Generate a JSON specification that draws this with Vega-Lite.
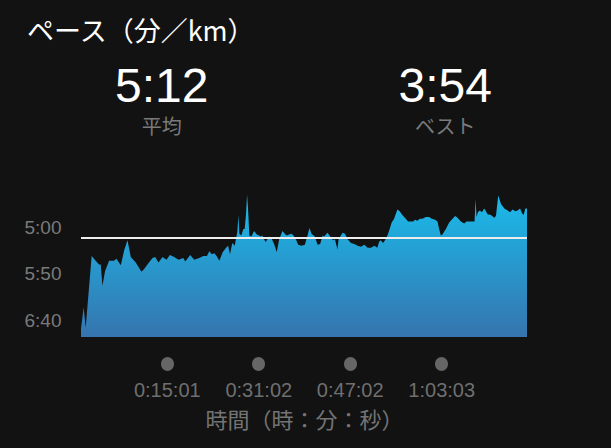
{
  "$schema": "https://vega.github.io/schema/vega-lite/v6.json",
  "background": "#121212",
  "padding": {"left": 24, "right": 84, "top": 19, "bottom": 18},
  "bounds": "flush",
  "spacing": 23,
  "title": {
    "text": "ペース（分／km）",
    "anchor": "start",
    "color": "#ffffff",
    "font": "Noto Sans CJK JP",
    "fontSize": 27,
    "fontWeight": "normal",
    "offset": 17,
    "dx": 3
  },
  "datasets": {
    "stats": [
      {"stat": "平均", "value": "5:12"},
      {"stat": "ベスト", "value": "3:54"}
    ],
    "pace": [
      {"t": 0, "pace": 409},
      {"t": 28, "pace": 386},
      {"t": 49, "pace": 408},
      {"t": 112, "pace": 331},
      {"t": 154, "pace": 336},
      {"t": 189, "pace": 340},
      {"t": 207, "pace": 340},
      {"t": 225, "pace": 363},
      {"t": 253, "pace": 347},
      {"t": 295, "pace": 336},
      {"t": 347, "pace": 336},
      {"t": 372, "pace": 334},
      {"t": 418, "pace": 341},
      {"t": 453, "pace": 325},
      {"t": 488, "pace": 314},
      {"t": 523, "pace": 332},
      {"t": 575, "pace": 338},
      {"t": 635, "pace": 348},
      {"t": 663, "pace": 345},
      {"t": 698, "pace": 340},
      {"t": 751, "pace": 333},
      {"t": 779, "pace": 332},
      {"t": 814, "pace": 338},
      {"t": 856, "pace": 332},
      {"t": 898, "pace": 335},
      {"t": 933, "pace": 330},
      {"t": 979, "pace": 332},
      {"t": 1025, "pace": 335},
      {"t": 1074, "pace": 333},
      {"t": 1095, "pace": 337},
      {"t": 1147, "pace": 330},
      {"t": 1189, "pace": 335},
      {"t": 1242, "pace": 333},
      {"t": 1284, "pace": 331},
      {"t": 1323, "pace": 331},
      {"t": 1347, "pace": 326},
      {"t": 1375, "pace": 329},
      {"t": 1400, "pace": 328},
      {"t": 1424, "pace": 331},
      {"t": 1453, "pace": 336},
      {"t": 1488, "pace": 327},
      {"t": 1523, "pace": 322},
      {"t": 1545, "pace": 320},
      {"t": 1565, "pace": 329},
      {"t": 1589, "pace": 317},
      {"t": 1614, "pace": 320},
      {"t": 1642, "pace": 305},
      {"t": 1653, "pace": 287},
      {"t": 1663, "pace": 307},
      {"t": 1684, "pace": 309},
      {"t": 1705, "pace": 302},
      {"t": 1719, "pace": 302},
      {"t": 1733, "pace": 286},
      {"t": 1744, "pace": 265},
      {"t": 1754, "pace": 280},
      {"t": 1768, "pace": 309},
      {"t": 1789, "pace": 310},
      {"t": 1818, "pace": 304},
      {"t": 1846, "pace": 308},
      {"t": 1870, "pace": 309},
      {"t": 1888, "pace": 310},
      {"t": 1905, "pace": 309},
      {"t": 1923, "pace": 313},
      {"t": 1940, "pace": 316},
      {"t": 1975, "pace": 310},
      {"t": 2000, "pace": 312},
      {"t": 2028, "pace": 318},
      {"t": 2056, "pace": 327},
      {"t": 2081, "pace": 313},
      {"t": 2116, "pace": 304},
      {"t": 2140, "pace": 307},
      {"t": 2161, "pace": 309},
      {"t": 2186, "pace": 308},
      {"t": 2211, "pace": 307},
      {"t": 2232, "pace": 309},
      {"t": 2256, "pace": 313},
      {"t": 2281, "pace": 319},
      {"t": 2316, "pace": 320},
      {"t": 2351, "pace": 319},
      {"t": 2379, "pace": 309},
      {"t": 2400, "pace": 301},
      {"t": 2421, "pace": 307},
      {"t": 2456, "pace": 310},
      {"t": 2484, "pace": 319},
      {"t": 2512, "pace": 318},
      {"t": 2537, "pace": 309},
      {"t": 2554, "pace": 310},
      {"t": 2589, "pace": 306},
      {"t": 2618, "pace": 310},
      {"t": 2646, "pace": 314},
      {"t": 2667, "pace": 313},
      {"t": 2693, "pace": 324},
      {"t": 2705, "pace": 313},
      {"t": 2747, "pace": 306},
      {"t": 2772, "pace": 307},
      {"t": 2800, "pace": 313},
      {"t": 2835, "pace": 317},
      {"t": 2870, "pace": 318},
      {"t": 2905, "pace": 320},
      {"t": 2940, "pace": 321},
      {"t": 2975, "pace": 319},
      {"t": 3011, "pace": 322},
      {"t": 3046, "pace": 322},
      {"t": 3081, "pace": 320},
      {"t": 3112, "pace": 322},
      {"t": 3130, "pace": 316},
      {"t": 3147, "pace": 314},
      {"t": 3172, "pace": 317},
      {"t": 3193, "pace": 314},
      {"t": 3218, "pace": 309},
      {"t": 3235, "pace": 304},
      {"t": 3263, "pace": 295},
      {"t": 3288, "pace": 291},
      {"t": 3323, "pace": 281},
      {"t": 3347, "pace": 283},
      {"t": 3375, "pace": 287},
      {"t": 3411, "pace": 291},
      {"t": 3435, "pace": 294},
      {"t": 3463, "pace": 294},
      {"t": 3488, "pace": 294},
      {"t": 3509, "pace": 292},
      {"t": 3533, "pace": 293},
      {"t": 3558, "pace": 291},
      {"t": 3586, "pace": 291},
      {"t": 3621, "pace": 289},
      {"t": 3656, "pace": 289},
      {"t": 3684, "pace": 291},
      {"t": 3719, "pace": 292},
      {"t": 3744, "pace": 294},
      {"t": 3761, "pace": 302},
      {"t": 3779, "pace": 309},
      {"t": 3796, "pace": 308},
      {"t": 3832, "pace": 302},
      {"t": 3867, "pace": 295},
      {"t": 3902, "pace": 291},
      {"t": 3930, "pace": 288},
      {"t": 3954, "pace": 290},
      {"t": 3989, "pace": 294},
      {"t": 4024, "pace": 296},
      {"t": 4049, "pace": 294},
      {"t": 4077, "pace": 294},
      {"t": 4112, "pace": 294},
      {"t": 4133, "pace": 294},
      {"t": 4144, "pace": 270},
      {"t": 4154, "pace": 289},
      {"t": 4168, "pace": 284},
      {"t": 4189, "pace": 282},
      {"t": 4211, "pace": 284},
      {"t": 4235, "pace": 280},
      {"t": 4270, "pace": 286},
      {"t": 4305, "pace": 287},
      {"t": 4340, "pace": 290},
      {"t": 4358, "pace": 288},
      {"t": 4382, "pace": 266},
      {"t": 4411, "pace": 275},
      {"t": 4446, "pace": 280},
      {"t": 4481, "pace": 282},
      {"t": 4505, "pace": 284},
      {"t": 4533, "pace": 281},
      {"t": 4561, "pace": 283},
      {"t": 4586, "pace": 282},
      {"t": 4611, "pace": 280},
      {"t": 4632, "pace": 285},
      {"t": 4649, "pace": 287},
      {"t": 4667, "pace": 280},
      {"t": 4684, "pace": 280}
    ]
  },
  "vconcat": [
    {
      "width": 445,
      "height": 60,
      "data": {"name": "stats"},
      "encoding": {
        "x": {
          "field": "stat",
          "type": "nominal",
          "scale": {"type": "point", "domain": ["平均", "ベスト"], "padding": 0.285},
          "axis": null
        }
      },
      "layer": [
        {
          "mark": {
            "type": "text",
            "font": "Liberation Sans",
            "fontSize": 48,
            "color": "#ffffff",
            "baseline": "alphabetic",
            "align": "center",
            "dy": -7
          },
          "encoding": {"text": {"field": "value"}}
        },
        {
          "mark": {
            "type": "text",
            "font": "Noto Sans CJK JP",
            "fontSize": 20,
            "color": "#7a7a7a",
            "baseline": "middle",
            "align": "center",
            "dy": 19
          },
          "encoding": {"text": {"field": "stat"}}
        }
      ]
    },
    {
      "width": 446,
      "height": 175,
      "data": {"name": "pace"},
      "layer": [
        {
          "mark": {
            "type": "area",
            "opacity": 1,
            "fillOpacity": 1,
            "color": {
              "gradient": "linear",
              "x1": 0, "y1": 0, "x2": 0, "y2": 1,
              "stops": [
                {"offset": 0, "color": "#1abbeb"},
                {"offset": 1, "color": "#3674ae"}
              ]
            }
          },
          "encoding": {
            "x": {
              "field": "t",
              "type": "quantitative",
              "scale": {"domain": [0, 4684], "nice": false, "zero": false},
              "axis": {
                "values": [901, 1862, 2822, 3783],
                "labelExpr": "utcFormat(datum.value * 1000, '%-H:%M:%S')",
                "domain": false,
                "grid": false,
                "ticks": true,
                "tickColor": "#666666",
                "tickWidth": 13,
                "tickSize": 1,
                "tickCap": "round",
                "offset": 26,
                "labelFlush": false,
                "labelColor": "#6f6f6f",
                "labelFont": "Liberation Sans",
                "labelFontSize": 20,
                "labelPadding": 16,
                "title": "時間（時：分：秒）",
                "titleColor": "#747474",
                "titleFont": "Noto Sans CJK JP",
                "titleFontSize": 22,
                "titleFontWeight": "normal",
                "titlePadding": 10
              }
            },
            "y": {
              "field": "pace",
              "type": "quantitative",
              "scale": {"domain": [230, 418], "reverse": true, "nice": false, "zero": false},
              "axis": {
                "values": [300, 350, 400],
                "labelExpr": "utcFormat(datum.value * 1000, '%-M:%S')",
                "domain": false,
                "grid": false,
                "ticks": false,
                "labelPadding": 20,
                "labelColor": "#7a7a7a",
                "labelFont": "Liberation Sans",
                "labelFontSize": 19,
                "title": null
              }
            },
            "y2": {"datum": 418}
          }
        },
        {
          "mark": {"type": "rule", "color": "#eeeeee", "strokeWidth": 1.5},
          "encoding": {"y": {"datum": 312}}
        }
      ]
    }
  ],
  "config": {
    "view": {"stroke": null},
    "font": "Noto Sans CJK JP"
  }
}
